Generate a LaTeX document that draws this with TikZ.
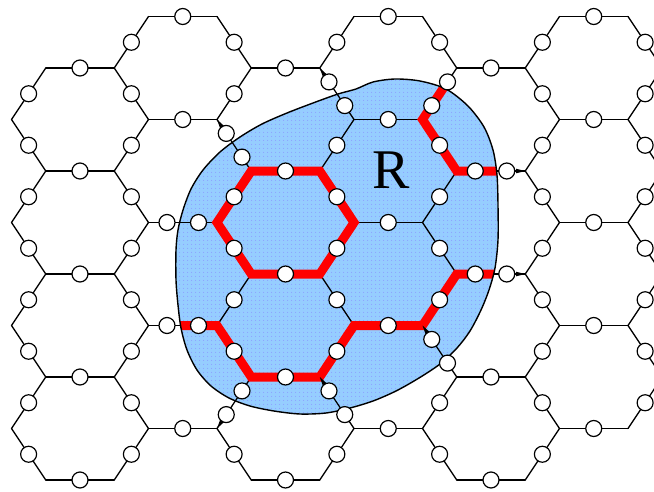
\documentclass[tikz,border=0pt]{standalone}
\usepackage{fontspec}
\setmainfont{Liberation Serif}
\usetikzlibrary{calc,patterns.meta}
\tikzset{
  edge/.style={line width=1.3pt, draw=black, line cap=round},
  site/.style={circle, draw=black, line width=1.2pt, fill=white, inner sep=0pt, minimum size=16pt},
  redpath/.style={line width=9pt, draw=red, line join=miter},
  blobfill/.style={fill={rgb,255:red,150;green,205;blue,255}},
  blobdots/.style={pattern={Dots[distance=4pt,radius=0.55pt]}, pattern color={rgb,255:red,135;green,135;blue,255}},
  blobline/.style={draw=black, line width=1.4pt},
  wedgemark/.style={fill=black},
  labeltext/.style={inner sep=0pt, font=\fontsize{56}{56}\selectfont}
}
% crossing edges (two sites each)
\expandafter\def\csname X@v3-4@v4-4\endcsname{}
\expandafter\def\csname X@v3-6@v4-6\endcsname{}
\expandafter\def\csname X@v4-2@v5-3\endcsname{}
\expandafter\def\csname X@v5-7@v4-8\endcsname{}
\expandafter\def\csname X@v6-1@v7-2\endcsname{}
\expandafter\def\csname X@v6-7@v7-8\endcsname{}
\expandafter\def\csname X@v9-1@v8-2\endcsname{}
\expandafter\def\csname X@v8-6@v9-7\endcsname{}
\expandafter\def\csname X@v9-3@v10-3\endcsname{}
\expandafter\def\csname X@v9-5@v10-5\endcsname{}
\newcommand\edgesites[2]{%
  \ifcsname X@#1@#2\endcsname
    \path (#1) -- node[site,pos=0.27] (c-#1-#2-a) {} node[site,pos=0.73] (c-#1-#2-b) {} (#2);
  \else
    \path (#1) -- node[site,pos=0.5] (c-#1-#2) {} (#2);
  \fi}
\newcommand\wedgeat[2]{\fill[wedgemark] (#1) -- ($(#1)!9.5pt!14:(#2)$) -- ($(#1)!9.5pt!-14:(#2)$) -- cycle;}
\def\blob{plot[smooth cycle, tension=0.5] coordinates {(176,250) (176,280) (178,305) (181,328) (187,350) (197,370) (211,386) (229,398) (250,406) (274,411) (300,414) (326,413) (350,408) (373,401) (396,391) (419,378) (440,364) (457,348) (470,331) (481,310) (489,290) (495,268) (498,240) (498,205) (497,175) (493,150) (484,127) (468,106) (446,89) (420,81) (395,79) (373,82) (356,89) (338,94) (313,103) (287,113) (262,124) (240,137) (220,152) (203,170) (191,189) (183,210) (178,230)}}
\begin{document}
\begin{tikzpicture}[x=1pt,y=-1pt]
\useasboundingbox (0,0) rectangle (654,491);
\clip (0,0) rectangle (654,491);
% lattice vertices
\foreach \n in {0,...,13}{
  \foreach \j in {0,...,9}{
    \pgfmathsetmacro\xx{11.5+102.75*floor(\n/2)+34.25*mod(\n,2)}
    \pgfmathsetmacro\yy{16.5+51.5*\j}
    \coordinate (v\n-\j) at (\xx,\yy);
  }
}
% region R
\path[blobfill] \blob;
\path[blobdots] \blob;
% zigzag edges
\foreach \m in {0,...,6}{
  \pgfmathtruncatemacro\ja{\m==0 ? 1 : 0}
  \pgfmathtruncatemacro\jb{\m==6 ? 7 : 8}
  \foreach \j in {\ja,...,\jb}{
    \pgfmathtruncatemacro\jj{\j+1}
    \pgfmathtruncatemacro\na{2*\m+mod(\j+\m,2)}
    \pgfmathtruncatemacro\nb{2*\m+mod(\j+1+\m,2)}
    \draw[edge] (v\na-\j) -- (v\nb-\jj);
  }
}
% horizontal edges
\foreach \k in {0,...,5}{
  \pgfmathtruncatemacro\jo{mod(\k,2)==0 ? 1 : 0}
  \pgfmathtruncatemacro\na{2*\k+1}
  \pgfmathtruncatemacro\nb{2*\k+2}
  \foreach \t in {0,...,4}{
    \pgfmathtruncatemacro\j{\jo+2*\t}
    \draw[edge] (v\na-\j) -- (v\nb-\j);
  }
}
% red paths inside R
\begin{scope}
  \clip \blob;
  \draw[redpath] (v4-4) -- (v5-3) -- (v6-3) -- (v7-4) -- (v6-5) -- (v5-5) -- cycle;
  \draw[redpath] (v3-6) -- (v4-6) -- (v5-7) -- (v6-7) -- (v7-6) -- (v8-6) -- (v9-5) -- (v10-5);
  \draw[redpath] (v9-1) -- (v8-2) -- (v9-3) -- (v10-3);
\end{scope}
\path[blobline] \blob;
% small wedges
\wedgeat{v4-2}{v5-3}
\wedgeat{v4-8}{v5-7}
\wedgeat{v6-1}{v7-2}
\wedgeat{v6-7}{v7-8}
\wedgeat{v8-6}{v9-7}
\wedgeat{v10-3}{v9-3}
\wedgeat{v10-5}{v9-5}
% sites
\foreach \m in {0,...,6}{
  \pgfmathtruncatemacro\ja{\m==0 ? 1 : 0}
  \pgfmathtruncatemacro\jb{\m==6 ? 7 : 8}
  \foreach \j in {\ja,...,\jb}{
    \pgfmathtruncatemacro\jj{\j+1}
    \pgfmathtruncatemacro\na{2*\m+mod(\j+\m,2)}
    \pgfmathtruncatemacro\nb{2*\m+mod(\j+1+\m,2)}
    \edef\tmp{\noexpand\edgesites{v\na-\j}{v\nb-\jj}}\tmp
  }
}
\foreach \k in {0,...,5}{
  \pgfmathtruncatemacro\jo{mod(\k,2)==0 ? 1 : 0}
  \pgfmathtruncatemacro\na{2*\k+1}
  \pgfmathtruncatemacro\nb{2*\k+2}
  \foreach \t in {0,...,4}{
    \pgfmathtruncatemacro\j{\jo+2*\t}
    \edef\tmp{\noexpand\edgesites{v\na-\j}{v\nb-\j}}\tmp
  }
}
\node[labeltext] (R) at (391,170) {R};
\end{tikzpicture}
\end{document}
